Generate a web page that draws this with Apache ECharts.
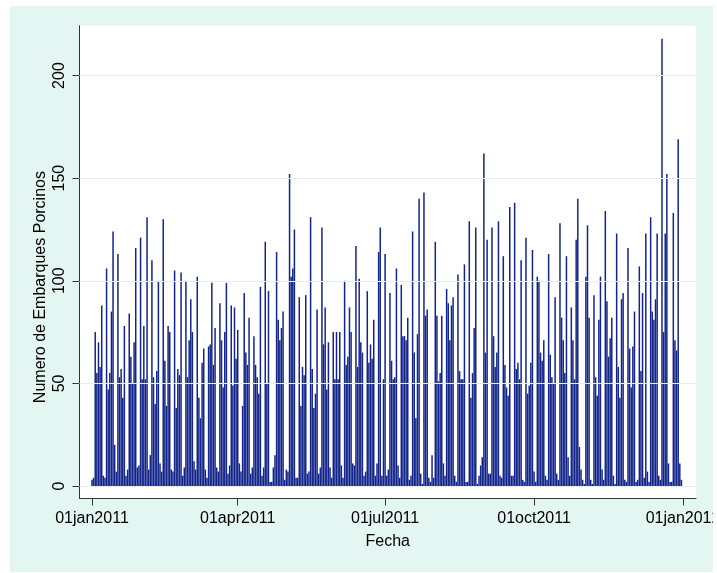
<!DOCTYPE html>
<html>
<head>
<meta charset="utf-8">
<script src="https://cdn.jsdelivr.net/npm/echarts@6/dist/echarts.min.js"></script>
<style>
html,body{margin:0;padding:0;background:#ffffff;}
#chart{width:717px;height:573px;}
</style>
</head>
<body>
<div id="chart"></div>
<script>
// Daily values (Numero de Embarques Porcinos), year 2011, one array per month
const jan = [3,4,75,55,70,58,88,5,4,106,47,55,85,124,20,7,113,53,57,43,78,5,8,84,63,50,70,116,9,10,121];
const feb = [52,78,52,131,8,15,110,53,40,56,100,11,7,130,61,39,78,75,8,7,105,38,57,54,104,5,9,100];
const mar = [53,71,91,75,12,8,102,43,33,60,67,8,4,68,69,99,59,77,9,7,89,71,48,75,99,6,10,88,49,87,62];
const apr = [76,11,7,39,94,65,59,82,6,9,73,59,53,45,97,5,9,119,50,95,2,2,9,15,114,81,71,77,85,3];
const may = [8,7,152,102,106,125,4,4,92,39,58,54,93,6,7,131,57,38,45,86,6,9,126,69,87,47,70,9,4,75,52];
const jun = [75,52,75,10,4,100,59,63,87,75,11,10,117,58,101,70,65,5,7,95,60,69,62,81,5,11,114,126,5,52];
const jul = [113,5,8,94,61,52,53,106,10,4,98,73,73,71,82,3,5,124,65,33,74,140,6,1,143,83,86,4,2,15,4];
const aug = [119,83,51,55,83,11,5,96,89,71,88,92,5,2,103,56,52,52,108,2,2,129,43,55,77,126,1,5,10,14,162];
const sep = [65,120,6,6,126,73,58,65,129,5,4,112,59,48,44,136,5,5,138,57,60,52,110,3,2,121,45,49,60,115];
const oct = [7,2,102,100,65,61,71,5,3,113,64,53,50,92,6,3,128,82,71,55,112,14,5,87,71,52,120,140,19,8,3];
const nov = [1,102,127,82,3,1,93,53,44,81,102,8,3,134,90,63,72,82,5,1,123,58,43,91,94,3,2,116,67,48];
const dec = [68,85,2,3,107,56,94,4,123,7,2,131,85,81,91,123,5,3,218,75,123,152,11,2,2,133,71,66,169,11,3];

// Axis ticks (day index from 01jan2011) and their labels
const xTickDays = [0, 90, 181, 273, 365];
const xTickLabels = ['01jan2011', '01apr2011', '01jul2011', '01oct2011', '01jan2012'];
const yTicks = [0, 50, 100, 150, 200];

const months = [jan, feb, mar, apr, may, jun, jul, aug, sep, oct, nov, dec];
const values = [].concat(...months);
const seriesData = values.map((v, i) => [i, v]);

const chart = echarts.init(document.getElementById('chart'), null, {renderer: 'canvas'});
const font = 'Liberation Sans, Arial, Helvetica, sans-serif';

chart.setOption({
  animation: false,
  backgroundColor: '#ffffff',
  graphic: [{
    type: 'rect',
    z: -10,
    silent: true,
    shape: {x: 10, y: 6, width: 703, height: 566},
    style: {fill: '#e4f6f1'}
  }, {
    type: 'rect',
    z: 100,
    silent: true,
    shape: {x: 713, y: 0, width: 4, height: 573},
    style: {fill: '#ffffff'}
  }],
  grid: {
    left: 79.5, top: 25.7, right: 21, bottom: 74.5,
    containLabel: false,
    outerBoundsMode: 'none',
    show: true, backgroundColor: '#ffffff', borderWidth: 0
  },
  xAxis: {
    type: 'value',
    min: -7.72, max: 373.0,
    name: 'Fecha',
    nameLocation: 'middle',
    nameGap: 35,
    nameMoveOverlap: false,
    nameTextStyle: {fontFamily: font, fontSize: 16, color: '#000'},
    axisLine: {show: true, onZero: false, lineStyle: {color: '#333', width: 1}},
    axisTick: {show: true, length: 7, customValues: xTickDays, lineStyle: {color: '#333'}},
    axisLabel: {
      show: true, margin: 12, fontFamily: font, fontSize: 16, color: '#000',
      customValues: xTickDays, hideOverlap: false,
      formatter: function (v) { const k = xTickDays.indexOf(Math.round(v)); return k >= 0 ? xTickLabels[k] : ''; }
    },
    splitLine: {show: false}
  },
  yAxis: {
    type: 'value',
    min: -6.1, max: 224.3,
    name: 'Numero de Embarques Porcinos',
    nameLocation: 'middle',
    nameGap: 31,
    nameRotate: 90,
    nameMoveOverlap: false,
    nameTextStyle: {fontFamily: font, fontSize: 16, color: '#000', padding: [0, 50, 0, 0]},
    axisLine: {show: true, onZero: false, lineStyle: {color: '#333', width: 1}},
    axisTick: {show: true, length: 7, customValues: yTicks, lineStyle: {color: '#333'}},
    axisLabel: {
      show: true, margin: 12, rotate: 90, fontFamily: font, fontSize: 16, color: '#000',
      customValues: yTicks
    },
    splitLine: {show: false}
  },
  series: [
    {
      type: 'line',
      data: [],
      silent: true,
      z: 1,
      markLine: {
        silent: true,
        symbol: ['none', 'none'],
        label: {show: false},
        lineStyle: {color: '#dff2ed', width: 1, type: 'solid'},
        data: yTicks.map(v => ({yAxis: v}))
      }
    },
    {
      type: 'bar',
      data: seriesData,
      barWidth: 1.5,
      z: 2,
      itemStyle: {color: '#14258a'}
    }
  ]
});
</script>
</body>
</html>
